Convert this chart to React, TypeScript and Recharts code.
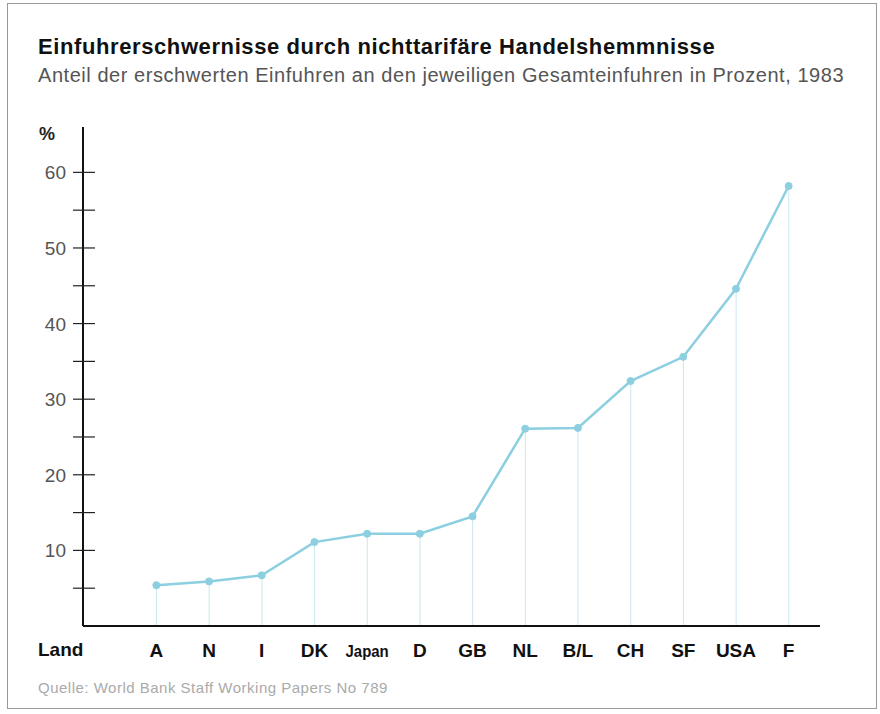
import React from "react";
import { ComposedChart, Line, Bar, XAxis, YAxis } from "recharts";

const countries = ["A", "N", "I", "DK", "Japan", "D", "GB", "NL", "B/L", "CH", "SF", "USA", "F"];
const shares = [5.4, 5.9, 6.7, 11.1, 12.2, 12.2, 14.5, 26.1, 26.2, 32.4, 35.6, 44.6, 58.2];
const yTicks = [5, 10, 15, 20, 25, 30, 35, 40, 45, 50, 55, 60];
const yLabels = [10, 20, 30, 40, 50, 60];

const data = countries.map((c, i) => ({ land: c, value: shares[i] }));

const FONT = "'Liberation Sans', Arial, Helvetica, sans-serif";
const LINE_COLOR = "#8ccfe0";
const DROP_COLOR = "#c9e8ef";

const YTick = (props: any) => {
  const { x, y, payload } = props;
  const v = payload.value;
  const labeled = yLabels.includes(v);
  return (
    <g>
      <line x1={x - 10} x2={x + 12} y1={y} y2={y} stroke="#222" strokeWidth={1.2} />
      {labeled && (
        <text x={x - 17} y={y + 7} textAnchor="end" fontFamily={FONT} fontSize={19} fill="#555">
          {v}
        </text>
      )}
    </g>
  );
};

const XTick = (props: any) => {
  const { x, y, payload } = props;
  const isJapan = payload.value === "Japan";
  return (
    <text
      x={x}
      y={y + 31}
      textAnchor="middle"
      fontFamily={FONT}
      fontWeight="bold"
      fontSize={isJapan ? 17 : 19}
      fill="#111"
      transform={isJapan ? `translate(${x},0) scale(0.88,1) translate(${-x},0)` : undefined}
    >
      {payload.value}
    </text>
  );
};

export default function App() {
  return (
    <div
      style={{
        position: "absolute",
        left: 0,
        top: 0,
        width: 880,
        height: 714,
        background: "#fff",
        fontFamily: FONT,
      }}
    >
      <div
        style={{
          position: "absolute",
          left: 7,
          top: 3,
          width: 870,
          height: 706,
          border: "1px solid #999",
          boxSizing: "border-box",
        }}
      />
      <div
        style={{
          position: "absolute",
          left: 38,
          top: 34,
          fontSize: 22,
          letterSpacing: 0.6,
          fontWeight: "bold",
          color: "#111",
          whiteSpace: "nowrap",
        }}
      >
        Einfuhrerschwernisse durch nichttarifäre Handelshemmnisse
      </div>
      <div
        style={{
          position: "absolute",
          left: 38,
          top: 64,
          fontSize: 20,
          letterSpacing: 0.55,
          color: "#555",
          whiteSpace: "nowrap",
        }}
      >
        Anteil der erschwerten Einfuhren an den jeweiligen Gesamteinfuhren in Prozent, 1983
      </div>
      <div
        style={{
          position: "absolute",
          left: 39,
          top: 124,
          fontSize: 18,
          fontWeight: "bold",
          color: "#222",
        }}
      >
        %
      </div>
      <div
        style={{
          position: "absolute",
          left: 38,
          top: 639,
          fontSize: 19,
          fontWeight: "bold",
          color: "#111",
        }}
      >
        Land
      </div>
      <div
        style={{
          position: "absolute",
          left: 38,
          top: 679,
          fontSize: 15,
          letterSpacing: 0.5,
          color: "#aaa",
          whiteSpace: "nowrap",
        }}
      >
        Quelle: World Bank Staff Working Papers No 789
      </div>
      <div style={{ position: "absolute", left: 0, top: 0 }}>
        <ComposedChart
          width={880}
          height={714}
          data={data}
          margin={{ top: 127, right: 60, bottom: 48, left: 0 }}
        >
          <XAxis
            dataKey="land"
            height={40}
            padding={{ left: 47, right: 5 }}
            axisLine={{ stroke: "#111", strokeWidth: 2 }}
            tickLine={false}
            tickSize={0}
            tickMargin={0}
            interval={0}
            tick={<XTick />}
          />
          <YAxis
            width={83}
            domain={[0, 66]}
            ticks={yTicks}
            interval={0}
            axisLine={{ stroke: "#111", strokeWidth: 2 }}
            tickLine={false}
            tickSize={0}
            tickMargin={0}
            tick={<YTick />}
          />
          <Bar dataKey="value" barSize={1} fill={DROP_COLOR} isAnimationActive={false} />
          <Line
            dataKey="value"
            stroke={LINE_COLOR}
            strokeWidth={2.5}
            dot={{ r: 3.5, fill: LINE_COLOR, stroke: LINE_COLOR, strokeWidth: 1 }}
            activeDot={false}
            isAnimationActive={false}
          />
        </ComposedChart>
      </div>
    </div>
  );
}
